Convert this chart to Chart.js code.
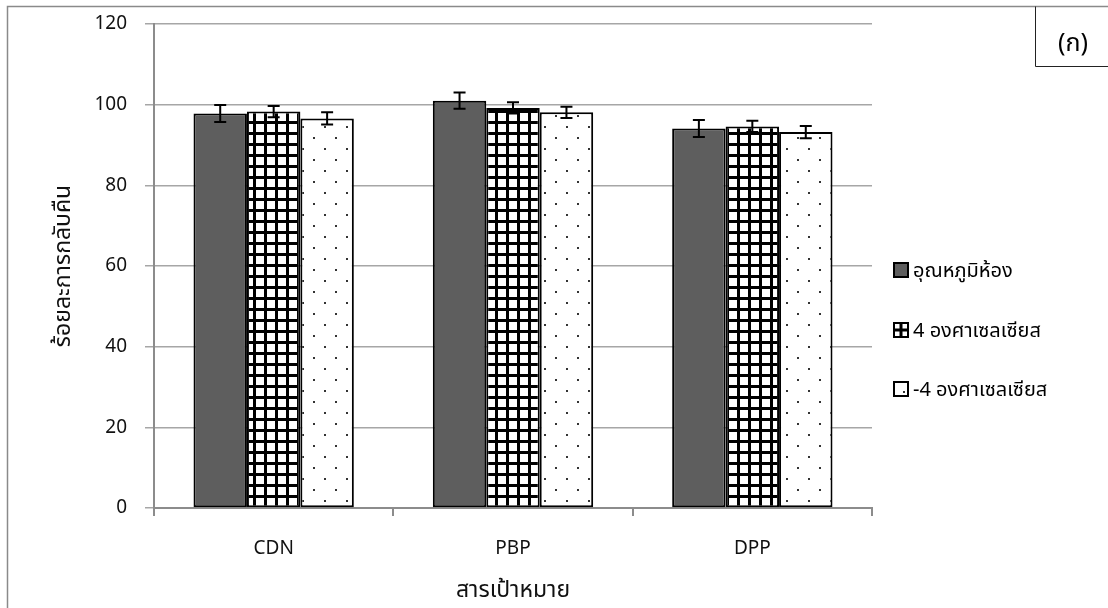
<!DOCTYPE html>
<html>
<head>
<meta charset="utf-8">
<script src="https://cdn.jsdelivr.net/npm/chart.js@4.4.1/dist/chart.umd.min.js"></script>
<style>
  html, body { margin: 0; padding: 0; background: #fff; }
  #wrap { position: relative; width: 1108px; height: 608px; }
  canvas { display: block; }
</style>
</head>
<body>
<div id="wrap"><canvas id="c" width="1108" height="608"></canvas></div>
<script>
// Recovery (%) of three target compounds stored at three temperatures
const categories = ['CDN', 'PBP', 'DPP'];
const seriesLabels = ['อุณหภูมิห้อง', '4 องศาเซลเซียส', '-4 องศาเซลเซียส'];
const roomTemp = [97.8, 101.0, 94.1];
const chill4 = [98.3, 99.2, 94.6];
const freeze4 = [96.6, 98.1, 93.2];
const roomTempErr = [2.1, 2.0, 2.1];
const chill4Err = [1.4, 1.4, 1.4];
const freeze4Err = [1.5, 1.4, 1.5];
const yTicks = [0, 20, 40, 60, 80, 100, 120];
const yTitle = 'ร้อยละการกลับคืน';
const xTitle = 'สารเป้าหมาย';
const panelTag = '(ก)';

const FONT = '"Noto Sans", "Noto Sans Thai", Tahoma, sans-serif';

// Fill patterns for the three series
function gridPattern() {
  const c = document.createElement('canvas');
  c.width = 11; c.height = 11;
  const g = c.getContext('2d');
  g.fillStyle = '#fff'; g.fillRect(0, 0, 11, 11);
  g.fillStyle = '#000';
  g.fillRect(0, 0, 3, 11);
  g.fillRect(0, 0, 11, 3);
  return g.createPattern(c, 'repeat');
}
function dotPattern() {
  const c = document.createElement('canvas');
  c.width = 22; c.height = 22;
  const g = c.getContext('2d');
  g.fillStyle = '#fff'; g.fillRect(0, 0, 22, 22);
  g.fillStyle = '#333';
  g.fillRect(5, 5, 2, 2);
  g.fillRect(16, 16, 2, 2);
  return g.createPattern(c, 'repeat');
}
const fills = ['#5e5e5e', gridPattern(), dotPattern()];
const seriesValues = [roomTemp, chill4, freeze4];
const seriesErrors = [roomTempErr, chill4Err, freeze4Err];

// Error bars drawn from the value and error arrays through the y scale
const errorBars = {
  id: 'errorBars',
  afterDatasetsDraw(chart) {
    const ctx = chart.ctx;
    const y = chart.scales.y;
    ctx.save();
    ctx.strokeStyle = '#000';
    ctx.lineWidth = 2;
    chart.data.datasets.forEach((ds, i) => {
      const meta = chart.getDatasetMeta(i);
      meta.data.forEach((el, j) => {
        const v = ds.data[j], e = seriesErrors[i][j];
        const top = y.getPixelForValue(v + e);
        const bot = y.getPixelForValue(v - e);
        const x = el.x, cap = 6;
        ctx.beginPath();
        ctx.moveTo(x, top); ctx.lineTo(x, bot);
        ctx.moveTo(x - cap, top); ctx.lineTo(x + cap, top);
        ctx.moveTo(x - cap, bot); ctx.lineTo(x + cap, bot);
        ctx.stroke();
      });
    });
    ctx.restore();
  }
};

// Outer frame, panel tag box and legend
const decorations = {
  id: 'decorations',
  afterDraw(chart) {
    const ctx = chart.ctx;
    ctx.save();
    // frame
    ctx.strokeStyle = '#8a8a8a';
    ctx.lineWidth = 1.5;
    ctx.beginPath();
    ctx.moveTo(7.5, 610); ctx.lineTo(7.5, 6.5); ctx.lineTo(1110, 6.5);
    ctx.stroke();
    // panel tag box
    ctx.strokeStyle = '#222';
    ctx.lineWidth = 1;
    ctx.beginPath();
    ctx.moveTo(1035.5, 6.5); ctx.lineTo(1035.5, 66.5); ctx.lineTo(1110, 66.5);
    ctx.stroke();
    ctx.fillStyle = '#000';
    ctx.font = '25px ' + FONT;
    ctx.textAlign = 'center';
    ctx.textBaseline = 'middle';
    ctx.fillText(panelTag, 1073, 44);
    // legend
    const rows = [270, 330, 389];
    ctx.font = '20px ' + FONT;
    ctx.textAlign = 'left';
    chart.data.datasets.forEach((ds, i) => {
      const cy = rows[i];
      const x0 = 894, s = 14;
      ctx.fillStyle = (i === 0) ? fills[0] : '#fff';
      ctx.fillRect(x0, cy - s / 2, s, s);
      ctx.fillStyle = '#000';
      if (i === 1) {
        ctx.fillRect(x0 + s / 2 - 1.5, cy - s / 2, 3, s);
        ctx.fillRect(x0, cy - 1.5, s, 3);
      } else if (i === 2) {
        ctx.fillStyle = '#333';
        ctx.fillRect(x0 + 9, cy + 2, 2, 2);
      }
      ctx.strokeStyle = '#000';
      ctx.lineWidth = 2;
      ctx.strokeRect(x0, cy - s / 2, s, s);
      ctx.fillStyle = '#000';
      ctx.fillText(ds.label, x0 + s + 5, cy + 1);
    });
    ctx.restore();
  }
};

new Chart(document.getElementById('c'), {
  type: 'bar',
  data: {
    labels: categories,
    datasets: seriesLabels.map((label, i) => ({
      label,
      data: seriesValues[i],
      backgroundColor: fills[i],
      borderColor: '#000',
      borderWidth: 2,
      borderSkipped: false,
      categoryPercentage: 0.67,
      barPercentage: 1.0
    }))
  },
  options: {
    responsive: false,
    animation: false,
    devicePixelRatio: 1,
    layout: { padding: { left: 38, top: 24, right: 236, bottom: 0 } },
    plugins: { legend: { display: false }, tooltip: { enabled: false } },
    scales: {
      x: {
        grid: { display: true, drawOnChartArea: false, offset: true, tickLength: 8, color: '#8c8c8c', lineWidth: 2 },
        border: { color: '#8c8c8c', width: 2 },
        ticks: { color: '#111', font: { family: FONT, size: 19 }, padding: 21 },
        title: { display: true, text: xTitle, color: '#111', font: { family: FONT, size: 23 }, padding: { top: 0, bottom: 4 } },
        afterFit(scale) { scale.height = 100; scale.paddingLeft = 0; scale.paddingRight = 0; }
      },
      y: {
        min: 0, max: 120,
        afterBuildTicks(scale) { scale.ticks = yTicks.map(v => ({ value: v })); },
        grid: { color: '#a6a6a6', lineWidth: 1.5, tickLength: 9 },
        border: { color: '#8c8c8c', width: 2 },
        ticks: { color: '#111', font: { family: FONT, size: 19 }, padding: 18 },
        title: { display: true, text: yTitle, color: '#111', font: { family: FONT, size: 23 }, padding: { top: 12, bottom: 0 } },
        afterFit(scale) { scale.width = 116; scale.paddingTop = 0; scale.paddingBottom = 0; }
      }
    }
  },
  plugins: [errorBars, decorations]
});
</script>
</body>
</html>
